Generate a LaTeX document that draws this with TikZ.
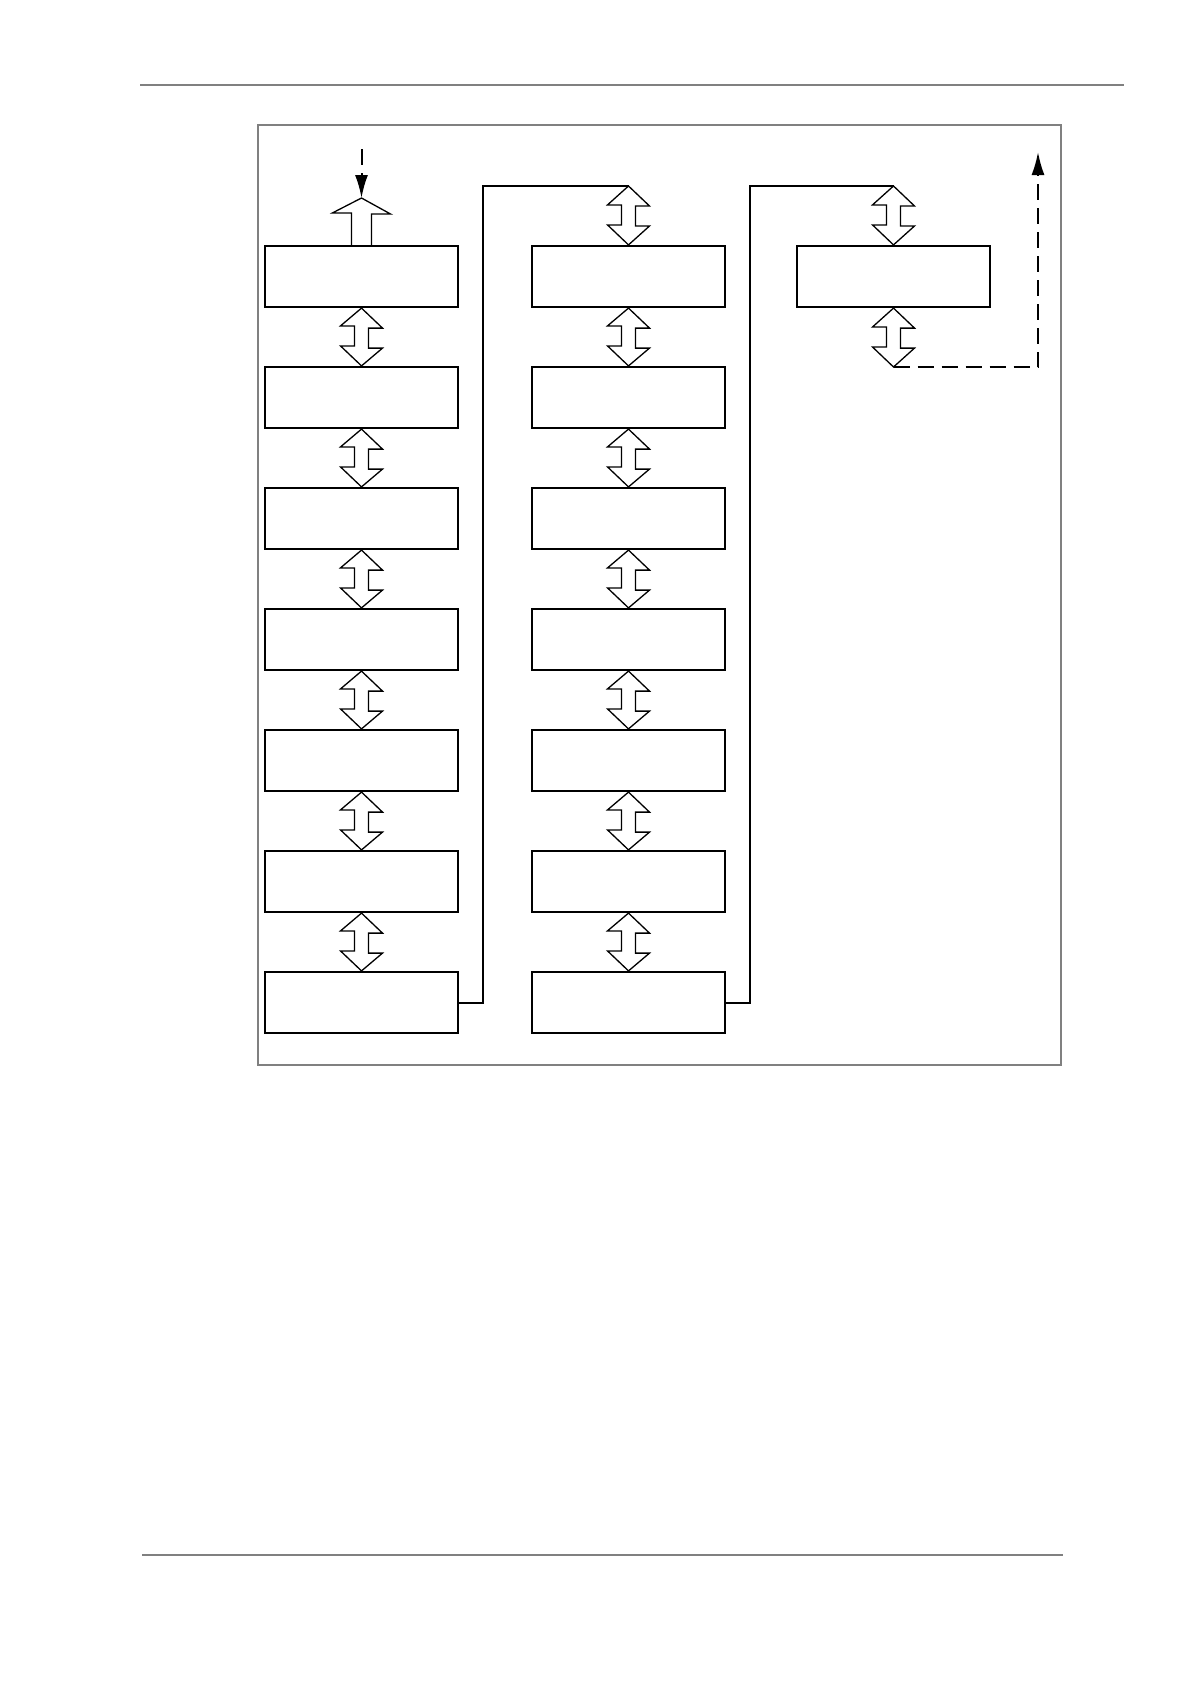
\documentclass[tikz,border=0pt]{standalone}
\usetikzlibrary{arrows.meta,calc}
\definecolor{rulegray}{HTML}{808080}
\tikzset{
  stepbox/.style={draw,line width=2.2pt,rectangle,minimum width=193pt,minimum height=61pt,inner sep=0pt,fill=white},
  fatarrow/.style={draw,line width=1.3pt,line join=miter},
  link/.style={draw,line width=2pt},
  dashlink/.style={draw,line width=2pt,dash pattern=on 16pt off 8pt,-{Latex[length=23pt,width=13pt]}},
  frameline/.style={draw=rulegray,line width=1.8pt},
  ruleline/.style={draw=rulegray,line width=2.7pt}
}
\newcommand\dblarr[2]{%
  \draw[fatarrow] (#1) -- ++(21,20) -- ++(-14,0) -- ++(0,20) -- ++(14,0) -- (#2)
    -- ++(-21,-20) -- ++(14,0) -- ++(0,-20) -- ++(-14,0) -- cycle;}
\begin{document}
\begin{tikzpicture}[x=1pt,y=-1pt]
\useasboundingbox (0,0) rectangle (1191,1684);
% page rules and frame
\coordinate (hl) at (140,85); \coordinate (hr) at (1124,85);
\draw[ruleline] (hl) -- (hr);
\coordinate (fl) at (142,1555); \coordinate (fr) at (1063,1555);
\draw[ruleline] (fl) -- (fr);
\coordinate (fa) at (258,125); \coordinate (fb) at (1061,1065);
\draw[frameline] (fa) rectangle (fb);
% boxes
\foreach \i in {1,...,7} {
  \node[stepbox] (b1\i) at (361.5,{276.5+121*(\i-1)}) {};
  \node[stepbox] (b2\i) at (628.5,{276.5+121*(\i-1)}) {};
}
\node[stepbox] (b31) at (893.5,276.5) {};
% double arrows
\foreach \i [evaluate=\i as \j using int(\i+1)] in {1,...,6} {
  \dblarr{b1\i.south}{b1\j.north}
  \dblarr{b2\i.south}{b2\j.north}
}
% column links
\coordinate (t2) at (628.5,186);
\coordinate (t3) at (893.5,186);
\draw[link] (b17.east) -- ++(24,0) |- (t2);
\draw[link] (b27.east) -- ++(24,0) |- (t3);
\dblarr{t2}{b21.north}
\dblarr{t3}{b31.north}
\coordinate (d3) at (893.5,367);
\dblarr{b31.south}{d3}
\coordinate (e3) at (1038,152);
\draw[dashlink] (d3) -| (e3);
% entry arrow
\coordinate (t1) at (361.5,198);
\coordinate (s1) at (361.5,149);
\draw[fatarrow] ([xshift=-10pt]b11.north) -- ++(0,-32) -- ++(-19,0) -- (t1) -- ++(29,16) -- ++(-19,0) -- ([xshift=10pt]b11.north);
\draw[dashlink] (s1) -- (t1);
\end{tikzpicture}
\end{document}
